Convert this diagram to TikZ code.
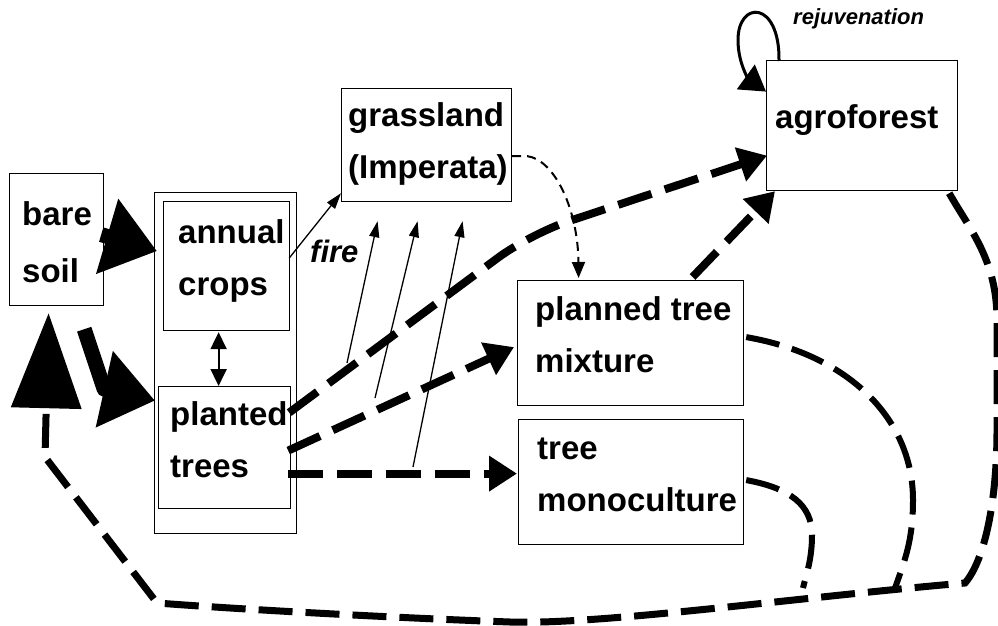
\documentclass[tikz,border=0pt]{standalone}
\usepackage{fontspec}
\setmainfont{Liberation Sans}
\usetikzlibrary{arrows.meta,calc}

\begin{document}
\begin{tikzpicture}[x=1pt,y=-1pt,
    box/.style={draw,line width=1.2pt,inner sep=0pt,anchor=north west},
    lbl/.style={anchor=base west,inner sep=0pt,align=left,font=\fontsize{33}{52}\selectfont\bfseries},
    bigarrow/.style={line width=15pt,line join=round,-{Triangle[length=52pt,width=75pt]}},
    flow/.style={line width=8pt,dash pattern=on 35pt off 14pt,-{Triangle[length=28pt,width=34pt]}},
    back/.style={line width=7pt,dash pattern=on 34pt off 13pt},
    thin/.style={line width=1.3pt,-{Triangle[length=16pt,width=10pt]}}]
  \useasboundingbox (0,0) rectangle (998,626);
  % boxes
  \node[box,minimum width=94pt,minimum height=132pt] (bare) at (9,173) {};
  \node[box,minimum width=142pt,minimum height=341pt] (field) at (154,192) {};
  \node[box,minimum width=126pt,minimum height=129pt] (annual) at (163,201) {};
  \node[box,minimum width=132pt,minimum height=122pt] (planted) at (158,386) {};
  \node[box,minimum width=170pt,minimum height=113pt] (grass) at (341,88) {};
  \node[box,minimum width=191pt,minimum height=130pt] (agro) at (766,60) {};
  \node[box,minimum width=226pt,minimum height=125pt] (mix) at (517,280) {};
  \node[box,minimum width=225pt,minimum height=125pt] (mono) at (518,419) {};
  % texts (base = last line)
  \node[lbl,font=\fontsize{33}{57}\selectfont\bfseries] (bare-t) at (22,282) {bare\\soil};
  \node[lbl] (annual-t) at (178,295) {annual\\crops};
  \node[lbl] (planted-t) at (170,477) {planted\\trees};
  \node[lbl] (grass-t) at (348,178) {grassland\\(Imperata)};
  \node[lbl] (agro-t) at (775,128) {agroforest};
  \node[lbl] (mix-t) at (535,372) {planned tree\\mixture};
  \node[lbl] (mono-t) at (537,511) {tree\\monoculture};
  \node[anchor=base west,inner sep=0pt,font=\fontsize{31}{36}\selectfont\bfseries\itshape] (fire) at (310,262) {fire};
  \node[anchor=base west,inner sep=0pt,font=\fontsize{22}{26}\selectfont\bfseries\itshape] (rejuv) at (793,25) {rejuvenation};

  % clearing
  \draw[bigarrow] ($(bare.east)+(-3,-5)$) -- ($(annual.west)+(-6,-15)$);
  \draw[bigarrow] ($(bare.south east)+(-20,23)$) -- ++(20,60) -- ($(planted.west)+(-3,-47)$);
  \draw[line width=2pt,{Triangle[length=17pt,width=16pt]}-{Triangle[length=17pt,width=16pt]}]
    ($(annual.south)+(-8,1)$) -- ($(planted.north)+(-6,0)$);

  % fire
  \draw[thin] ($(annual.east)+(-1,-8)$) -- ($(grass.south west)+(0,-9)$);
  \foreach \i/\sx/\sy/\tx in {1/347/363/-49, 2/375/398/-9, 3/413/467/36} {
    \coordinate (fire\i) at (\sx,\sy);
    \draw[thin] (fire\i) -- ($(grass.south)+(\tx,19)$);
  }
  \draw[line width=2pt,dash pattern=on 9pt off 6pt,-{Triangle[length=16pt,width=13pt]}]
    ($(grass.east)+(0,11)$) -- ++(15,0) .. controls (555,160) and (578,210) .. ($(mix.north)+(-52,-2)$);

  % tree planting
  \coordinate (bend) at (530,234);
  \draw[flow,rounded corners=40pt] ($(planted.east)+(-2,-35)$) -- (bend) -- ($(agro.west)+(1,30)$);
  \draw[flow] ($(planted.east)+(-3,3)$) -- ($(mix.west)+(-3,4)$);
  \draw[flow] ($(planted.east)+(-3,26)$) -- ($(mono.west)+(-1,-8.5)$);
  \draw[flow] ($(mix.north)+(62,-3)$) -- ($(agro.south west)+(9,0)$);

  % rejuvenation
  \draw[line width=3pt,-{Triangle[length=25pt,width=30pt]}] ($(agro.north west)+(13,1)$)
    .. controls (780,0) and (738,0) .. (738,40) .. controls (738,65) and (750,80) .. ($(agro.west)+(0,-34)$);

  % back to bare soil
  \draw[back,-{Triangle[length=95pt,width=69pt]}] ($(agro.south east)+(-9,2)$)
    .. controls (970,230) and (997,260) .. (997,320) -- (997,430)
    .. controls (997,500) and (985,560) .. (965,583)
    .. controls (800,597) and (600,625) .. (510,622)
    .. controls (400,618) and (250,610) .. (157,603) -- (45,457) -- ($(bare.south)+(-8,7)$);
  \draw[back,line width=6pt] ($(mix.east)+(2,-6)$) .. controls (850,355) and (913,420) .. (913,500)
    .. controls (913,540) and (905,560) .. (895,588);
  \draw[back,line width=6pt] ($(mono.east)+(2,-2)$) .. controls (790,488) and (812,505) .. (812,535)
    .. controls (812,560) and (806,575) .. (803,588);
\end{tikzpicture}
\end{document}
